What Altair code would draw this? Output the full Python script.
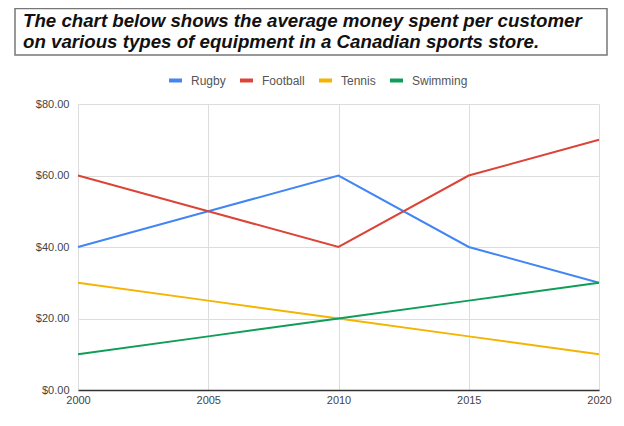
import altair as alt
import pandas as pd

years = [2000, 2005, 2010, 2015, 2020]
rugby = [40, 50, 60, 40, 30]
football = [60, 50, 40, 60, 70]
tennis = [30, 25, 20, 15, 10]
swimming = [10, 15, 20, 25, 30]
series_names = ["Rugby", "Football", "Tennis", "Swimming"]
series_colors = ["#4285F4", "#DB4437", "#F4B400", "#0F9D58"]
title_lines = "The chart below shows the average money spent per customer\non various types of equipment in a Canadian sports store."

rows = []
for name, vals in zip(series_names, [rugby, football, tennis, swimming]):
    for y, v in zip(years, vals):
        rows.append({"Year": y, "Series": name, "Value": v})
df = pd.DataFrame(rows)

lines = alt.Chart(df).mark_line(strokeWidth=2).encode(
    x=alt.X("Year:Q", scale=alt.Scale(domain=[2000, 2020], nice=False, zero=False),
            axis=alt.Axis(values=years, format="d", title=None, grid=True,
                          gridColor="#dddddd", domainColor="#333333", domainWidth=1.5,
                          ticks=False, labelPadding=4, labelFontSize=11, labelColor="#444444",
                          labelFont="Liberation Sans", labelFlush=False, labelBound=False)),
    y=alt.Y("Value:Q", scale=alt.Scale(domain=[0, 80], nice=False),
            axis=alt.Axis(values=[0, 20, 40, 60, 80], format="$,.2f", title=None,
                          gridColor="#dddddd", domain=False, ticks=False, labelPadding=9,
                          labelFontSize=11, labelColor="#444444", labelFont="Liberation Sans",
                          labelFlush=False)),
    color=alt.Color("Series:N", sort=series_names,
                    scale=alt.Scale(domain=series_names, range=series_colors),
                    legend=alt.Legend(title=None, orient="none", direction="horizontal",
                                      legendX=89, legendY=-32, symbolType="stroke",
                                      symbolStrokeWidth=4, symbolSize=169,
                                      labelFontSize=12, labelColor="#555555",
                                      labelFont="Liberation Sans", columnPadding=6,
                                      labelOffset=7, gridAlign="none")),
)

box = alt.Chart(pd.DataFrame({"a": [0]})).mark_rect(
    fill="white", stroke="#777777", strokeWidth=1.5
).encode(x=alt.value(-63), x2=alt.value(529), y=alt.value(-95.5), y2=alt.value(-49))

title = alt.Chart(pd.DataFrame({"a": [0]})).mark_text(
    text=title_lines, lineBreak="\n", lineHeight=21, align="left", baseline="top",
    font="Liberation Sans", fontSize=18.7, fontWeight="bold", fontStyle="italic", color="#111111"
).encode(x=alt.value(-55), y=alt.value(-92))

chart = alt.layer(lines, box, title).properties(
    width=521, height=286,
    autosize=alt.AutoSizeParams(type="none"),
    padding={"left": 70, "top": 96, "right": 17, "bottom": 24},
).configure_view(stroke=None)

chart.save("out.html", embed_options={"renderer": "svg", "actions": False})
